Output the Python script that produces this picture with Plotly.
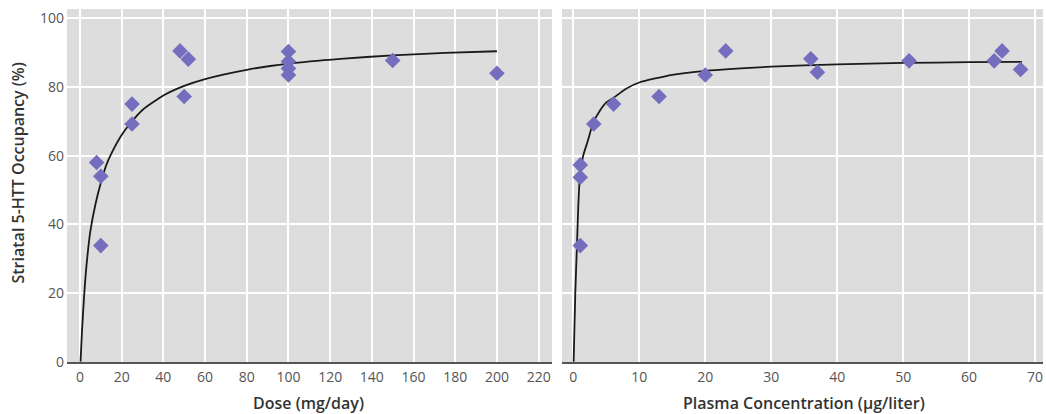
import plotly.graph_objects as go

# ---- data ----
dose = [8, 10, 10, 25, 25, 48, 52, 50, 100, 100, 100, 100, 150, 200]
dose_occ = [58, 54, 33.8, 75, 69.2, 90.5, 88.1, 77.2, 90.3, 87.4, 85.4, 83.5, 87.7, 84]

conc = [1.06, 1.06, 1.06, 3.1, 6.1, 13, 20, 23.1, 36, 37, 50.9, 63.8, 65, 67.8]
conc_occ = [33.8, 53.7, 57.3, 69.2, 75, 77.2, 83.5, 90.5, 88.2, 84.3, 87.6, 87.6, 90.5, 85.1]

# fitted curves
dose_fit_x = [0.3, 1, 2, 3, 5, 7.5, 10, 12.5, 15, 20, 25, 30, 40, 50, 60, 80, 100, 125, 150, 175, 200]
dose_fit_y = [0, 9, 19, 27, 38, 46, 52, 57, 60.5, 66, 70, 73.3, 77.5, 80.3, 82.3, 85, 86.8, 88.2, 89.2, 89.9, 90.4]

conc_fit_x = [0.05, 0.3, 0.56, 0.75, 1.0, 1.5, 2.2, 3.0, 4.0, 5.0, 6.0, 8.0, 10, 15, 20, 30, 40, 50, 60, 68]
conc_fit_y = [0, 20, 34, 45, 54, 60, 64.3, 69.5, 73, 75.5, 76.7, 79.5, 81.3, 83.5, 84.7, 85.9, 86.6, 87.0, 87.2, 87.3]

dose_ticks = [0, 20, 40, 60, 80, 100, 120, 140, 160, 180, 200, 220]
conc_ticks = [0, 10, 20, 30, 40, 50, 60, 70]
occ_ticks = [0, 20, 40, 60, 80, 100]

x_title_left = "Dose (mg/day)"
x_title_right = "Plasma Concentration (µg/liter)"
y_title = "Striatal 5-HTT Occupancy (%)"

MARKER = "rgb(117,109,189)"
FONT = "Open Sans"
TICKFONT = dict(family=FONT, size=14, color="#555")
TITLEFONT = dict(family=FONT, size=16, color="#333", weight=600)

fig = go.Figure()
fig.add_trace(go.Scatter(x=dose_fit_x, y=dose_fit_y, mode="lines",
                         line=dict(color="#1a1a1a", width=1.8, shape="spline", smoothing=0.6),
                         xaxis="x", yaxis="y", hoverinfo="skip"))
fig.add_trace(go.Scatter(x=dose, y=dose_occ, mode="markers",
                         marker=dict(symbol="diamond", size=12, color=MARKER, line=dict(width=0)),
                         xaxis="x", yaxis="y"))
fig.add_trace(go.Scatter(x=conc_fit_x, y=conc_fit_y, mode="lines",
                         line=dict(color="#1a1a1a", width=1.8, shape="spline", smoothing=0.6),
                         xaxis="x2", yaxis="y2", hoverinfo="skip"))
fig.add_trace(go.Scatter(x=conc, y=conc_occ, mode="markers",
                         marker=dict(symbol="diamond", size=12, color=MARKER, line=dict(width=0)),
                         xaxis="x2", yaxis="y2"))

axis_common = dict(showgrid=True, gridcolor="white", gridwidth=1.5, zeroline=False,
                   tickfont=TICKFONT, ticks="")

fig.update_layout(
    width=1046, height=414,
    margin=dict(l=67, r=3, t=9, b=52),
    paper_bgcolor="white",
    plot_bgcolor="rgb(221,221,221)",
    showlegend=False,
    xaxis=dict(domain=[0, 0.4969], range=[-6.2, 226.4], tickvals=dose_ticks,
               showline=True, linecolor="#555", linewidth=1.5, anchor="y",
               ticklabelstandoff=1, **axis_common),
    yaxis=dict(domain=[0, 1], range=[-0.1, 102.7], tickvals=occ_ticks,
               showline=False, anchor="x", ticklabelstandoff=2, **axis_common),
    xaxis2=dict(domain=[0.5072, 1], range=[-1.71, 71.2], tickvals=conc_ticks,
                showline=True, linecolor="#555", linewidth=1.5, anchor="y2",
                ticklabelstandoff=1, **axis_common),
    yaxis2=dict(domain=[0, 1], range=[-0.1, 102.7], tickvals=occ_ticks,
                showline=False, anchor="x2", showticklabels=False, **axis_common),
    annotations=[
        dict(text=x_title_left, xref="paper", yref="paper", x=0.247, y=-0.116,
             xanchor="center", yanchor="middle", showarrow=False, font=TITLEFONT),
        dict(text=x_title_right, xref="paper", yref="paper", x=0.755, y=-0.116,
             xanchor="center", yanchor="middle", showarrow=False, font=TITLEFONT),
        dict(text=y_title, xref="paper", yref="paper", x=-0.0502, y=0.534,
             xanchor="center", yanchor="middle", showarrow=False, textangle=-90,
             font=TITLEFONT),
    ],
)

fig.write_html("out.html", config={"displayModeBar": False},
               post_script="document.body.style.margin='0';document.body.style.overflow='hidden';")
